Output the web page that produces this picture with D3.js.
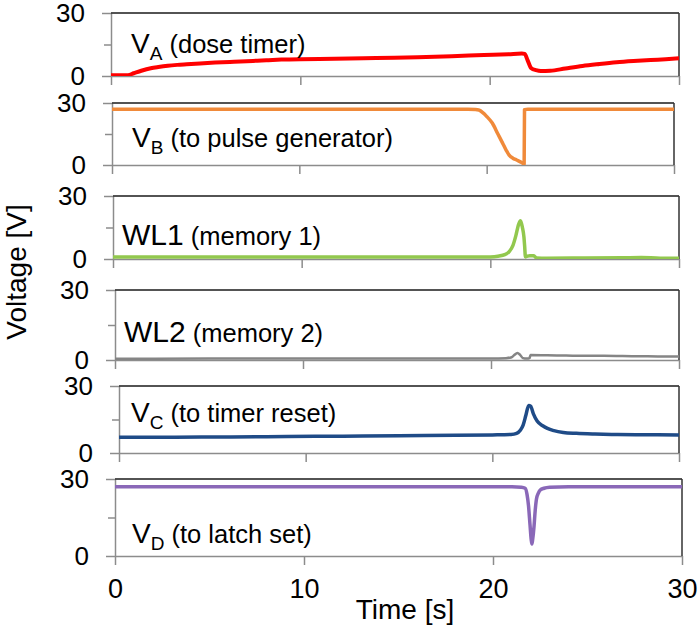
<!DOCTYPE html>
<html><head><meta charset="utf-8">
<script src="https://cdn.jsdelivr.net/npm/d3@7"></script>
<style>
body{margin:0;background:#fff}
svg{display:block;font-family:"Liberation Sans",Arial,sans-serif}
</style>
</head><body>
<svg id="chart" width="700" height="629"></svg>
<script>
// ---------- data ----------
const timeTicks = [0, 10, 20, 30];
const voltTicks = [0, 15, 30];
const voltLabels = ["0", "", "30"];

const tA = [0,0.5,0.9,1.2,1.6,2.1,2.5,3,3.5,4,4.7,5.5,6.5,7.5,8.2,9,10,11,12.6,14,16.2,18,19.7,21,21.7,21.85,22,22.2,22.45,22.7,23.2,24,24.9,25.8,26.7,27.6,28.5,29.3,30];
const vA = [0.3,0.3,0.4,1.3,2.5,3.7,4.3,4.9,5.3,5.6,6.0,6.4,6.8,7.2,7.5,7.8,8.0,8.1,8.3,8.6,8.9,9.4,10.0,10.4,10.7,10.5,7.6,3.7,2.8,2.4,2.5,3.6,4.8,5.7,6.5,7.1,7.6,8.0,8.4];

const tB = [0,5,10,15,19,19.4,19.6,20.0,20.3,20.6,20.85,21.05,21.2,21.4,21.6,21.8,21.9,22.0,22.02,22.2,25,28,30];
const vB = [27,27,27,27,27,26.9,26.5,23.5,20.3,15,10.6,7,4.8,3.3,2.4,1.5,1.0,0.5,26.8,27,27,27,27];

const tW1 = [0,5,10,15,19,20,20.4,20.8,21.0,21.2,21.35,21.5,21.6,21.7,21.78,21.82,21.86,21.95,22.1,22.3,22.45,23,25,27,28,29,30];
const vW1 = [1.0,1.0,0.9,0.9,0.9,1.0,1.3,2.2,3.5,6.5,11,16.5,18.2,15,10.5,6,1.0,1.3,1.6,1.5,0.5,0.4,0.5,0.6,0.7,0.4,0.4];

const tW2 = [0,5,10,15,20,20.8,21.1,21.25,21.4,21.55,21.7,21.9,22.05,22.1,23,24,25,26,27,28,29,30];
const vW2 = [0.5,0.6,0.6,0.6,0.6,0.8,1.2,2.2,3.0,2.2,0.8,0.6,0.8,2.1,2.0,1.9,1.8,1.8,1.7,1.6,1.5,1.5];

const tC = [0,3,6,9,12,15,18,20,21,21.3,21.5,21.65,21.8,21.95,22.05,22.2,22.4,22.7,22.95,23.3,23.8,24.5,25.5,26.7,28,30];
const vC = [7.0,7.1,7.2,7.4,7.5,7.7,7.9,8.1,8.3,8.8,10.2,12.5,17,21.3,21,17.5,14.3,12.2,11.0,10.0,9.2,8.8,8.5,8.3,8.2,8.1];

const tD = [0,5,10,15,20,21,21.5,21.7,21.8,21.88,21.96,22.02,22.06,22.1,22.17,22.23,22.3,22.4,22.5,22.7,23,24,26,28,30];
const vD = [27,27,27,27,27,27,26.8,26.4,24,19.5,12,6.5,4.7,6.5,11.5,17.5,22.2,24.5,25.7,26.4,26.8,27,27,27,27];

const labelMain = ["V", "V", "WL1", "WL2", "V", "V"];
const labelSub  = ["A", "B", "", "", "C", "D"];
const labelRest = [" (dose timer)", " (to pulse generator)", " (memory 1)", " (memory 2)", " (to timer reset)", " (to latch set)"];
const seriesT = [tA, tB, tW1, tW2, tC, tD];
const seriesV = [vA, vB, vW1, vW2, vC, vD];

// ---------- layout / style ----------
const layout = [
  {left:111, right:679, top:13,  bottom:76,  color:"#ff0000", lw:4.0, lx:131, ly:53},
  {left:112, right:674, top:103, bottom:165, color:"#f08a3a", lw:3.5, lx:132, ly:147},
  {left:113, right:679, top:196, bottom:259, color:"#92c84e", lw:3.5, lx:122, ly:245},
  {left:115, right:679, top:290, bottom:360, color:"#858585", lw:2.5, lx:124, ly:342},
  {left:119, right:679, top:386, bottom:453, color:"#1f4b87", lw:3.5, lx:131, ly:422},
  {left:115, right:682, top:479, bottom:556, color:"#8a68b8", lw:3.5, lx:132, ly:543}
];
const axisGray = "#8c8c8c";

const svg = d3.select("#chart");

layout.forEach((L, i) => {
  const x = d3.scaleLinear().domain([0, 30]).range([L.left, L.right]);
  const y = d3.scaleLinear().domain([0, 30]).range([L.bottom, L.top]);
  const g = svg.append("g");

  const cid = "clip" + i;
  svg.append("clipPath").attr("id", cid).append("rect")
    .attr("x", L.left).attr("y", L.top - 2).attr("width", L.right - L.left).attr("height", L.bottom - L.top + 2);

  const isLast = i === layout.length - 1;
  const xa = g.append("g").attr("transform", `translate(0,${L.bottom})`)
    .call(d3.axisBottom(x).tickValues(timeTicks).tickSize(9).tickSizeOuter(0).tickPadding(14)
      .tickFormat(isLast ? d3.format("d") : () => ""));
  xa.select(".domain").attr("stroke", axisGray).attr("stroke-width", 1.5);
  xa.selectAll(".tick line").attr("stroke", axisGray).attr("stroke-width", 1.5);
  xa.selectAll(".tick text").attr("font-size", 27).attr("fill", "#000")
    .attr("font-family", '"Liberation Sans",Arial,sans-serif');

  const ya = g.append("g").attr("transform", `translate(${L.left},0)`)
    .call(d3.axisLeft(y).tickValues(voltTicks).tickSize(9).tickSizeOuter(0).tickPadding(17)
      .tickFormat((d, k) => voltLabels[k]));
  ya.select(".domain").attr("stroke", axisGray).attr("stroke-width", 1.5);
  ya.selectAll(".tick line").attr("stroke", axisGray).attr("stroke-width", 1.5)
    .attr("x2", d => d === 15 ? -7 : -9);
  ya.selectAll(".tick text").attr("font-size", 26).attr("fill", "#000")
    .attr("font-family", '"Liberation Sans",Arial,sans-serif');

  g.append("line").attr("x1", L.left).attr("x2", L.right).attr("y1", L.top).attr("y2", L.top)
    .attr("stroke", "#1a1a1a").attr("stroke-width", 1.5);
  g.append("line").attr("x1", L.right).attr("x2", L.right).attr("y1", L.top).attr("y2", L.bottom)
    .attr("stroke", "#333").attr("stroke-width", 1.5);

  const pts = seriesT[i].map((t, k) => [t, seriesV[i][k]]);
  const line = d3.line().x(d => x(d[0])).y(d => y(d[1])).curve(d3.curveMonotoneX);
  g.append("path").datum(pts).attr("d", line)
    .attr("fill", "none").attr("stroke", L.color).attr("stroke-width", L.lw)
    .attr("stroke-linejoin", "round").attr("stroke-linecap", "round")
    .attr("clip-path", `url(#${cid})`);

  const txt = g.append("text").attr("x", L.lx).attr("y", L.ly).attr("fill", "#000");
  if (labelSub[i]) {
    txt.append("tspan").attr("font-size", 28).text(labelMain[i]);
    txt.append("tspan").attr("font-size", 19).attr("dy", 7).text(labelSub[i]);
    txt.append("tspan").attr("font-size", 25.5).attr("dy", -7).text(labelRest[i]);
  } else {
    txt.append("tspan").attr("font-size", 30).text(labelMain[i]);
    txt.append("tspan").attr("font-size", 25.5).text(labelRest[i]);
  }
});

svg.append("text").attr("transform", "translate(26,272) rotate(-90)")
  .attr("text-anchor", "middle").attr("font-size", 28).attr("fill", "#000").text("Voltage [V]");
svg.append("text").attr("x", 405).attr("y", 619)
  .attr("text-anchor", "middle").attr("font-size", 28).attr("fill", "#000").text("Time [s]");
</script>
</body></html>
